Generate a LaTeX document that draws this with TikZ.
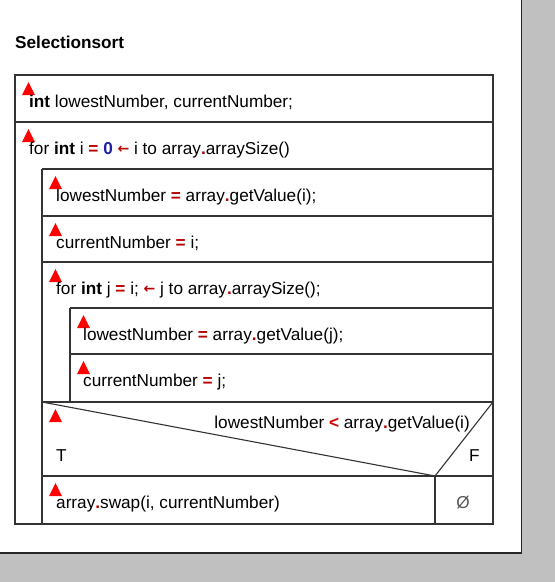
\documentclass[tikz,border=0pt]{standalone}
\usepackage{fontspec}
\setmainfont{Liberation Sans}
\newfontfamily\djv{DejaVu Sans}
\definecolor{opc}{HTML}{B80000}
\definecolor{numc}{HTML}{1F1FA0}
\definecolor{tric}{HTML}{FF0000}
\definecolor{bgc}{HTML}{C0C0C0}
\definecolor{lnc}{HTML}{333333}
\definecolor{emptyc}{HTML}{555555}
\newcommand{\opx}[1]{\textcolor{opc}{\textbf{#1}}}
\newcommand{\larr}{\textcolor{opc}{\raisebox{0.5pt}{\djv\bfseries\fontsize{14}{16}\selectfont ←}}}
\newcommand{\redtri}[2]{\fill[tric] (#1,#2) -- ++(13,0) -- ++(-6.5,-13) -- cycle;}
\begin{document}
\begin{tikzpicture}[x=1pt,y=-1pt,
  txt/.style={anchor=base west, inner sep=0pt, font=\fontsize{17.2}{20}\selectfont},
  cellline/.style={draw=lnc, line width=1.3pt}]
\useasboundingbox (0,0) rectangle (555,582);
% background
\fill[bgc] (0,0) rectangle (555,582);
\fill[white] (0,0) rectangle (521.5,553);
\draw[black!85, line width=1.6pt] (521.5,0) -- (521.5,553) -- (0,553);
% title
\node[txt, font=\fontsize{17.2}{20}\selectfont\bfseries] (title) at (15,48) {Selectionsort};
% structure
\draw[cellline] (15,75) rectangle (493,524);
\draw[cellline] (15,122) -- (493,122);
\draw[cellline] (42,169) -- (493,169);
\draw[cellline] (42,169) -- (42,524);
\draw[cellline] (42,216) -- (493,216);
\draw[cellline] (42,262) -- (493,262);
\draw[cellline] (70,308) -- (493,308);
\draw[cellline] (70,308) -- (70,402);
\draw[cellline] (70,354) -- (493,354);
\draw[cellline] (42,402) -- (493,402);
\draw[cellline] (42,476) -- (493,476);
\draw[cellline, line width=1.1pt] (42,402) -- (435,476) -- (493,402);
\draw[cellline] (435,476) -- (435,524);
% triangles
\redtri{22}{95}
\redtri{22}{142}
\redtri{49}{189}
\redtri{49}{236}
\redtri{49}{282}
\redtri{77}{328}
\redtri{77}{374}
\redtri{49}{422}
\redtri{49}{496}
% texts
\node[txt] (r1) at (29,107) {\textbf{int} lowestNumber, currentNumber;};
\node[txt] (r2) at (29,154) {for \textbf{int} i \opx{=} \textcolor{numc}{\textbf{0}} \larr{} i to array\opx{.}arraySize()};
\node[txt] (r3) at (56,201) {lowestNumber \opx{=} array\opx{.}getValue(i);};
\node[txt] (r4) at (56,248) {currentNumber \opx{=} i;};
\node[txt] (r5) at (56,294) {for \textbf{int} j \opx{=} i; \larr{} j to array\opx{.}arraySize();};
\node[txt] (r6) at (83,340) {lowestNumber \opx{=} array\opx{.}getValue(j);};
\node[txt] (r7) at (83,386) {currentNumber \opx{=} j;};
\node[txt, anchor=base east] (cond) at (470,428) {lowestNumber \textcolor{red!85!black}{\textbf{<}} array\opx{.}getValue(i)};
\node[txt] (tt) at (56,461) {T};
\node[txt] (ff) at (469,461) {F};
\node[txt] (sw) at (56,508) {array\opx{.}swap(i, currentNumber)};
\node[txt, anchor=base, text=emptyc] (em) at (463,508) {Ø};
\end{tikzpicture}
\end{document}
